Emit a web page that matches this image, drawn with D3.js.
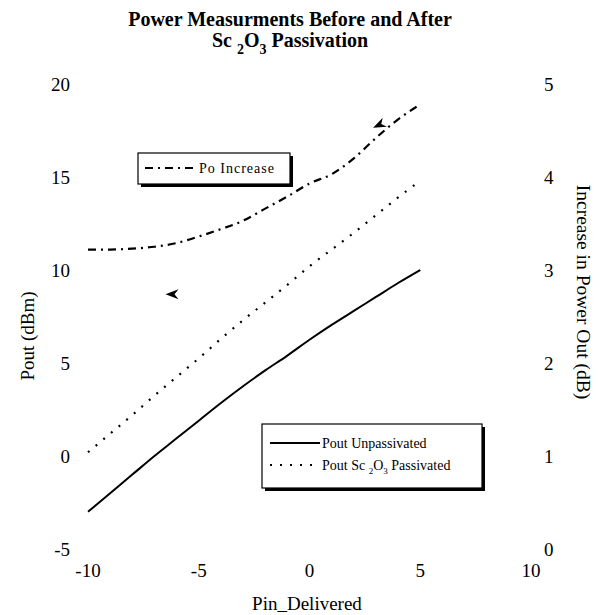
<!DOCTYPE html>
<html>
<head>
<meta charset="utf-8">
<script src="https://cdn.jsdelivr.net/npm/d3@7"></script>
<style>
  body { margin: 0; background: #fff; }
  svg text { font-family: "Liberation Serif", "Times New Roman", serif; fill: #000; }
</style>
</head>
<body>
<div id="chart"></div>
<script>
// Data
let pinDelivered = [-10, -9, -8, -7, -6, -5, -4, -3, -2, -1, 0, 1, 2, 3, 4, 5];
let poutUnpassivated = [-3.0, -2.0, -1.0, 0.0, 0.95, 1.9, 2.85, 3.75, 4.6, 5.4, 6.25, 7.05, 7.8, 8.55, 9.3, 10.0];
let poutPassivated = [0.2, 1.2, 2.2, 3.25, 4.25, 5.25, 6.3, 7.3, 8.25, 9.2, 10.2, 11.1, 12.0, 12.95, 13.9, 14.8];
let poIncrease = [3.22, 3.22, 3.23, 3.25, 3.29, 3.36, 3.44, 3.53, 3.66, 3.79, 3.93, 4.03, 4.2, 4.42, 4.62, 4.78];

let xTicks = [-10, -5, 0, 5, 10];
let yLeftTicks = [-5, 0, 5, 10, 15, 20];
let yRightTicks = [0, 1, 2, 3, 4, 5];

// arrow markers pointing at the axis each curve belongs to
let arrowMarks = [
    { x: -6.5, y: 8.7, axis: "left", angle: 0 },
    { x: 2.87, y: 4.53, axis: "right", angle: -25 }
];

let width = 600, height = 615;

let svg = d3.select("#chart").append("svg")
    .attr("width", width)
    .attr("height", height);

let x = d3.scaleLinear().domain([-10, 10]).range([88, 531]);
let yLeft = d3.scaleLinear().domain([-5, 20]).range([549, 84]);
let yRight = d3.scaleLinear().domain([0, 5]).range([549, 84]);

// Title
svg.append("text")
    .attr("x", 290).attr("y", 26)
    .attr("text-anchor", "middle")
    .attr("font-weight", "bold")
    .attr("font-size", 20)
    .text("Power Measurments Before and After");
let t2 = svg.append("text")
    .attr("x", 290).attr("y", 47)
    .attr("text-anchor", "middle")
    .attr("font-weight", "bold")
    .attr("font-size", 20);
t2.append("tspan").text("Sc ");
t2.append("tspan").attr("font-size", 14).attr("dy", 7).text("2");
t2.append("tspan").attr("dy", -7).text("O");
t2.append("tspan").attr("font-size", 14).attr("dy", 7).text("3");
t2.append("tspan").attr("dy", -7).text("  Passivation");

// Tick labels (no axis lines in the original)
svg.append("g").selectAll("text")
    .data(xTicks).enter().append("text")
    .attr("x", d => x(d))
    .attr("y", 577)
    .attr("text-anchor", "middle")
    .attr("font-size", 19)
    .text(d => d);

svg.append("g").selectAll("text")
    .data(yLeftTicks).enter().append("text")
    .attr("x", 70)
    .attr("y", d => yLeft(d))
    .attr("dy", "0.35em")
    .attr("text-anchor", "end")
    .attr("font-size", 19)
    .text(d => d);

svg.append("g").selectAll("text")
    .data(yRightTicks).enter().append("text")
    .attr("x", 544)
    .attr("y", d => yRight(d))
    .attr("dy", "0.35em")
    .attr("text-anchor", "start")
    .attr("font-size", 19)
    .text(d => d);

// Axis titles
svg.append("text")
    .attr("x", 307).attr("y", 610)
    .attr("text-anchor", "middle")
    .attr("font-size", 19)
    .text("Pin_Delivered");

svg.append("text")
    .attr("transform", "translate(34,336) rotate(-90)")
    .attr("text-anchor", "middle")
    .attr("font-size", 19)
    .text("Pout (dBm)");

svg.append("text")
    .attr("transform", "translate(577,292) rotate(90)")
    .attr("text-anchor", "middle")
    .attr("font-size", 19.5)
    .text("Increase in Power Out (dB)");

// Lines
let lineLeft = d3.line()
    .x(d => x(d[0]))
    .y(d => yLeft(d[1]))
    .curve(d3.curveMonotoneX);
let lineRight = d3.line()
    .x(d => x(d[0]))
    .y(d => yRight(d[1]))
    .curve(d3.curveMonotoneX);

svg.append("path")
    .datum(d3.zip(pinDelivered, poutUnpassivated))
    .attr("d", lineLeft)
    .attr("fill", "none")
    .attr("stroke", "#000")
    .attr("stroke-width", 2);

svg.append("path")
    .datum(d3.zip(pinDelivered, poutPassivated))
    .attr("d", lineLeft)
    .attr("fill", "none")
    .attr("stroke", "#000")
    .attr("stroke-width", 2.2)
    .attr("stroke-dasharray", "2,8");

svg.append("path")
    .datum(d3.zip(pinDelivered, poIncrease))
    .attr("d", lineRight)
    .attr("fill", "none")
    .attr("stroke", "#000")
    .attr("stroke-width", 2.2)
    .attr("stroke-dasharray", "8,5,2,5");

// Arrowheads
svg.append("g").selectAll("path")
    .data(arrowMarks).enter().append("path")
    .attr("d", "M0,0 L13,-5 L9,0 L13,5 Z")
    .attr("fill", "#000")
    .attr("transform", d => {
        let py = d.axis === "left" ? yLeft(d.y) : yRight(d.y);
        return "translate(" + x(d.x) + "," + py + ") rotate(" + d.angle + ")";
    });

// Legend boxes with drop shadow
function legendBox(x0, y0, w, h) {
    svg.append("rect")
        .attr("x", x0 + 3).attr("y", y0 + 3)
        .attr("width", w).attr("height", h)
        .attr("fill", "#000");
    svg.append("rect")
        .attr("x", x0).attr("y", y0)
        .attr("width", w).attr("height", h)
        .attr("fill", "#fff")
        .attr("stroke", "#000")
        .attr("stroke-width", 1.2);
}

legendBox(138, 153, 152, 31);
svg.append("line")
    .attr("x1", 145).attr("x2", 197)
    .attr("y1", 168).attr("y2", 168)
    .attr("stroke", "#000").attr("stroke-width", 2.2)
    .attr("stroke-dasharray", "8,5,2,5");
svg.append("text")
    .attr("x", 199).attr("y", 173)
    .attr("font-size", 14)
    .attr("letter-spacing", 1)
    .text("Po Increase");

legendBox(262, 424, 220, 64);
svg.append("line")
    .attr("x1", 270).attr("x2", 320)
    .attr("y1", 443).attr("y2", 443)
    .attr("stroke", "#000").attr("stroke-width", 2);
svg.append("text")
    .attr("x", 322).attr("y", 448)
    .attr("font-size", 14)
    .text("Pout Unpassivated");

svg.append("line")
    .attr("x1", 270).attr("x2", 320)
    .attr("y1", 465).attr("y2", 465)
    .attr("stroke", "#000").attr("stroke-width", 2.2)
    .attr("stroke-dasharray", "2,8");
let lt = svg.append("text")
    .attr("x", 322).attr("y", 470)
    .attr("font-size", 14);
lt.append("tspan").text("Pout Sc ");
lt.append("tspan").attr("font-size", 9).attr("dy", 4).text("2");
lt.append("tspan").attr("dy", -4).text("O");
lt.append("tspan").attr("font-size", 9).attr("dy", 4).text("3");
lt.append("tspan").attr("dy", -4).text(" Passivated");
</script>
</body>
</html>
